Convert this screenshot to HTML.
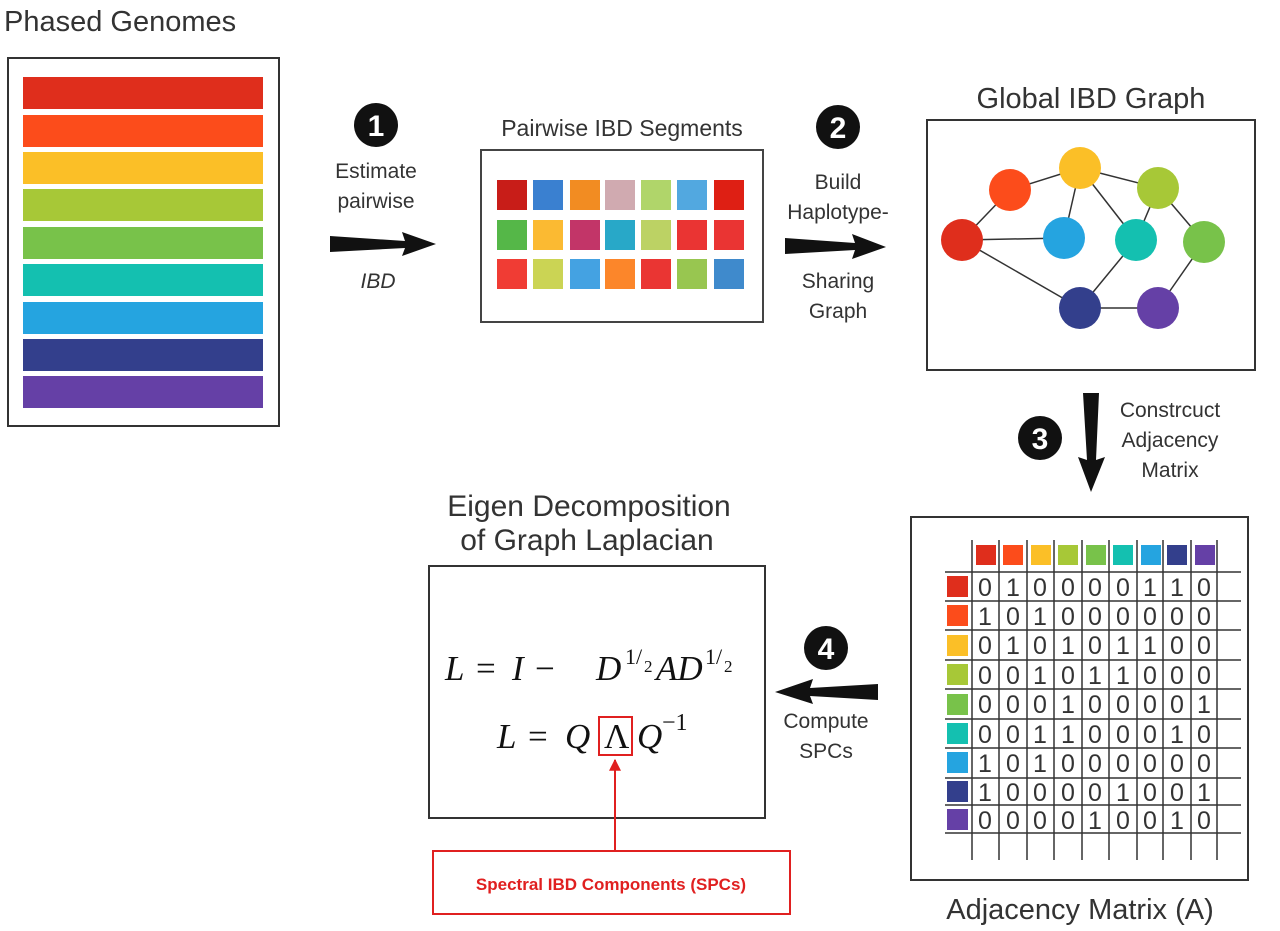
<!DOCTYPE html>
<html><head><style>body{margin:0;background:#fff}svg{display:block}text{font-family:"Liberation Sans",sans-serif}text.m{font-family:"Liberation Serif",serif;font-style:italic}</style></head><body>
<svg width="1280" height="931" xmlns="http://www.w3.org/2000/svg">
<defs><marker id="ar" viewBox="0 0 10 10" refX="9" refY="5" markerWidth="6" markerHeight="6" orient="auto"><path d="M0,0L10,5L0,10z" fill="#e02020"/></marker></defs>
<text x="4" y="31" font-size="29" fill="#333">Phased Genomes</text>
<rect x="8" y="58" width="271" height="368" fill="#fff" stroke="#333" stroke-width="2"/>
<g>
<rect x="23" y="77" width="240" height="32" fill="#df2e1c"/>
<rect x="23" y="115" width="240" height="32" fill="#fc4c1b"/>
<rect x="23" y="152" width="240" height="32" fill="#fbbf27"/>
<rect x="23" y="189" width="240" height="32" fill="#a7c837"/>
<rect x="23" y="227" width="240" height="32" fill="#78c24a"/>
<rect x="23" y="264" width="240" height="32" fill="#14c0b0"/>
<rect x="23" y="302" width="240" height="32" fill="#25a4e0"/>
<rect x="23" y="339" width="240" height="32" fill="#333f8c"/>
<rect x="23" y="376" width="240" height="32" fill="#6540a6"/>
</g>
<circle cx="376" cy="125" r="22" fill="#111"/><text x="376" y="136" font-size="30" font-weight="bold" fill="#fff" text-anchor="middle">1</text>
<text x="376" y="178" font-size="21" fill="#333" text-anchor="middle">Estimate</text>
<text x="376" y="208" font-size="21" fill="#333" text-anchor="middle">pairwise</text>
<text x="378" y="288" font-size="21" font-style="italic" fill="#333" text-anchor="middle">IBD</text>
<polygon points="330,236 405,241 402,232 436,244 402,256 405,248 330,252" fill="#111"/>
<text x="622" y="136" font-size="23" fill="#333" text-anchor="middle">Pairwise IBD Segments</text>
<rect x="481" y="150" width="282" height="172" fill="#fff" stroke="#444" stroke-width="2"/>
<g>
<rect x="497" y="180" width="30" height="30" fill="#c81d18"/><rect x="533" y="180" width="30" height="30" fill="#3a80d0"/><rect x="570" y="180" width="30" height="30" fill="#f28c22"/><rect x="605" y="180" width="30" height="30" fill="#d0aab0"/><rect x="641" y="180" width="30" height="30" fill="#b0d56a"/><rect x="677" y="180" width="30" height="30" fill="#52a8e0"/><rect x="714" y="180" width="30" height="30" fill="#de1f14"/>
<rect x="497" y="220" width="30" height="30" fill="#55b748"/><rect x="533" y="220" width="30" height="30" fill="#fbba32"/><rect x="570" y="220" width="30" height="30" fill="#c23568"/><rect x="605" y="220" width="30" height="30" fill="#28a8c8"/><rect x="641" y="220" width="30" height="30" fill="#bcd264"/><rect x="677" y="220" width="30" height="30" fill="#ea3433"/><rect x="714" y="220" width="30" height="30" fill="#ea3433"/>
<rect x="497" y="259" width="30" height="30" fill="#f03c34"/><rect x="533" y="259" width="30" height="30" fill="#cbd454"/><rect x="570" y="259" width="30" height="30" fill="#44a2e2"/><rect x="605" y="259" width="30" height="30" fill="#fc862a"/><rect x="641" y="259" width="30" height="30" fill="#ea3533"/><rect x="677" y="259" width="30" height="30" fill="#98c650"/><rect x="714" y="259" width="30" height="30" fill="#3f8acc"/>
</g>
<circle cx="838" cy="127" r="22" fill="#111"/><text x="838" y="138" font-size="30" font-weight="bold" fill="#fff" text-anchor="middle">2</text>
<text x="838" y="189" font-size="21" fill="#333" text-anchor="middle">Build</text>
<text x="838" y="219" font-size="21" fill="#333" text-anchor="middle">Haplotype-</text>
<text x="838" y="288" font-size="21" fill="#333" text-anchor="middle">Sharing</text>
<text x="838" y="318" font-size="21" fill="#333" text-anchor="middle">Graph</text>
<polygon points="785,238 855,243 852,234 886,247 852,259 855,250 785,254" fill="#111"/>
<text x="1091" y="108" font-size="29" fill="#333" text-anchor="middle">Global IBD Graph</text>
<rect x="927" y="120" width="328" height="250" fill="#fff" stroke="#333" stroke-width="2"/>
<g stroke="#333" stroke-width="1.5">
<line x1="962" y1="240" x2="1010" y2="190"/><line x1="962" y1="240" x2="1064" y2="238"/><line x1="962" y1="240" x2="1080" y2="308"/>
<line x1="1010" y1="190" x2="1080" y2="168"/><line x1="1080" y1="168" x2="1158" y2="188"/><line x1="1080" y1="168" x2="1064" y2="238"/><line x1="1080" y1="168" x2="1136" y2="240"/>
<line x1="1158" y1="188" x2="1136" y2="240"/><line x1="1158" y1="188" x2="1204" y2="242"/><line x1="1136" y1="240" x2="1080" y2="308"/>
<line x1="1204" y1="242" x2="1158" y2="308"/><line x1="1080" y1="308" x2="1158" y2="308"/>
</g>
<circle cx="962" cy="240" r="21" fill="#df2e1c"/><circle cx="1010" cy="190" r="21" fill="#fc4c1b"/><circle cx="1080" cy="168" r="21" fill="#fbbf27"/><circle cx="1158" cy="188" r="21" fill="#a7c837"/><circle cx="1064" cy="238" r="21" fill="#25a4e0"/><circle cx="1136" cy="240" r="21" fill="#14c0b0"/><circle cx="1204" cy="242" r="21" fill="#78c24a"/><circle cx="1080" cy="308" r="21" fill="#333f8c"/><circle cx="1158" cy="308" r="21" fill="#6540a6"/>
<polygon points="1083,393 1099,393 1096,460 1105,457 1091,492 1078,457 1087,460" fill="#111"/>
<circle cx="1040" cy="438" r="22" fill="#111"/><text x="1040" y="449" font-size="30" font-weight="bold" fill="#fff" text-anchor="middle">3</text>
<text x="1170" y="417" font-size="21" fill="#333" text-anchor="middle">Constrcuct</text>
<text x="1170" y="447" font-size="21" fill="#333" text-anchor="middle">Adjacency</text>
<text x="1170" y="477" font-size="21" fill="#333" text-anchor="middle">Matrix</text>
<rect x="911" y="517" width="337" height="363" fill="#fff" stroke="#333" stroke-width="2"/>
<g>
<rect x="976" y="545" width="20" height="20" fill="#df2e1c"/><rect x="1003" y="545" width="20" height="20" fill="#fc4c1b"/><rect x="1031" y="545" width="20" height="20" fill="#fbbf27"/><rect x="1058" y="545" width="20" height="20" fill="#a7c837"/><rect x="1086" y="545" width="20" height="20" fill="#78c24a"/><rect x="1113" y="545" width="20" height="20" fill="#14c0b0"/><rect x="1141" y="545" width="20" height="20" fill="#25a4e0"/><rect x="1167" y="545" width="20" height="20" fill="#333f8c"/><rect x="1195" y="545" width="20" height="20" fill="#6540a6"/>
<rect x="947" y="576" width="21" height="21" fill="#df2e1c"/><rect x="947" y="605" width="21" height="21" fill="#fc4c1b"/><rect x="947" y="635" width="21" height="21" fill="#fbbf27"/><rect x="947" y="664" width="21" height="21" fill="#a7c837"/><rect x="947" y="694" width="21" height="21" fill="#78c24a"/><rect x="947" y="723" width="21" height="21" fill="#14c0b0"/><rect x="947" y="752" width="21" height="21" fill="#25a4e0"/><rect x="947" y="781" width="21" height="21" fill="#333f8c"/><rect x="947" y="809" width="21" height="21" fill="#6540a6"/>
</g>
<g stroke="#333" stroke-width="1.5">
<line x1="972" y1="540" x2="972" y2="860"/><line x1="999" y1="540" x2="999" y2="860"/><line x1="1027" y1="540" x2="1027" y2="860"/><line x1="1054" y1="540" x2="1054" y2="860"/><line x1="1082" y1="540" x2="1082" y2="860"/><line x1="1109" y1="540" x2="1109" y2="860"/><line x1="1137" y1="540" x2="1137" y2="860"/><line x1="1163" y1="540" x2="1163" y2="860"/><line x1="1191" y1="540" x2="1191" y2="860"/><line x1="1217" y1="540" x2="1217" y2="860"/>
<line x1="945" y1="572" x2="1241" y2="572"/><line x1="945" y1="601" x2="1241" y2="601"/><line x1="945" y1="630" x2="1241" y2="630"/><line x1="945" y1="660" x2="1241" y2="660"/><line x1="945" y1="689" x2="1241" y2="689"/><line x1="945" y1="719" x2="1241" y2="719"/><line x1="945" y1="748" x2="1241" y2="748"/><line x1="945" y1="778" x2="1241" y2="778"/><line x1="945" y1="805" x2="1241" y2="805"/><line x1="945" y1="833" x2="1241" y2="833"/>
</g>
<g font-size="25" fill="#333" text-anchor="middle">
<text y="596"><tspan x="985">0</tspan><tspan x="1013">1</tspan><tspan x="1040">0</tspan><tspan x="1068">0</tspan><tspan x="1095">0</tspan><tspan x="1123">0</tspan><tspan x="1150">1</tspan><tspan x="1177">1</tspan><tspan x="1204">0</tspan></text>
<text y="625"><tspan x="985">1</tspan><tspan x="1013">0</tspan><tspan x="1040">1</tspan><tspan x="1068">0</tspan><tspan x="1095">0</tspan><tspan x="1123">0</tspan><tspan x="1150">0</tspan><tspan x="1177">0</tspan><tspan x="1204">0</tspan></text>
<text y="654"><tspan x="985">0</tspan><tspan x="1013">1</tspan><tspan x="1040">0</tspan><tspan x="1068">1</tspan><tspan x="1095">0</tspan><tspan x="1123">1</tspan><tspan x="1150">1</tspan><tspan x="1177">0</tspan><tspan x="1204">0</tspan></text>
<text y="684"><tspan x="985">0</tspan><tspan x="1013">0</tspan><tspan x="1040">1</tspan><tspan x="1068">0</tspan><tspan x="1095">1</tspan><tspan x="1123">1</tspan><tspan x="1150">0</tspan><tspan x="1177">0</tspan><tspan x="1204">0</tspan></text>
<text y="713"><tspan x="985">0</tspan><tspan x="1013">0</tspan><tspan x="1040">0</tspan><tspan x="1068">1</tspan><tspan x="1095">0</tspan><tspan x="1123">0</tspan><tspan x="1150">0</tspan><tspan x="1177">0</tspan><tspan x="1204">1</tspan></text>
<text y="743"><tspan x="985">0</tspan><tspan x="1013">0</tspan><tspan x="1040">1</tspan><tspan x="1068">1</tspan><tspan x="1095">0</tspan><tspan x="1123">0</tspan><tspan x="1150">0</tspan><tspan x="1177">1</tspan><tspan x="1204">0</tspan></text>
<text y="772"><tspan x="985">1</tspan><tspan x="1013">0</tspan><tspan x="1040">1</tspan><tspan x="1068">0</tspan><tspan x="1095">0</tspan><tspan x="1123">0</tspan><tspan x="1150">0</tspan><tspan x="1177">0</tspan><tspan x="1204">0</tspan></text>
<text y="801"><tspan x="985">1</tspan><tspan x="1013">0</tspan><tspan x="1040">0</tspan><tspan x="1068">0</tspan><tspan x="1095">0</tspan><tspan x="1123">1</tspan><tspan x="1150">0</tspan><tspan x="1177">0</tspan><tspan x="1204">1</tspan></text>
<text y="829"><tspan x="985">0</tspan><tspan x="1013">0</tspan><tspan x="1040">0</tspan><tspan x="1068">0</tspan><tspan x="1095">1</tspan><tspan x="1123">0</tspan><tspan x="1150">0</tspan><tspan x="1177">1</tspan><tspan x="1204">0</tspan></text>
</g>
<text x="1080" y="919" font-size="29" fill="#333" text-anchor="middle">Adjacency Matrix (A)</text>
<circle cx="826" cy="648" r="22" fill="#111"/><text x="826" y="659" font-size="30" font-weight="bold" fill="#fff" text-anchor="middle">4</text>
<polygon points="878,684 810,688 813,679 775,692 813,704 810,696 878,700" fill="#111"/>
<text x="826" y="728" font-size="21" fill="#333" text-anchor="middle">Compute</text>
<text x="826" y="758" font-size="21" fill="#333" text-anchor="middle">SPCs</text>
<text x="589" y="516" font-size="30" fill="#333" text-anchor="middle">Eigen Decomposition</text>
<text x="587" y="550" font-size="30" fill="#333" text-anchor="middle">of Graph Laplacian</text>
<rect x="429" y="566" width="336" height="252" fill="#fff" stroke="#333" stroke-width="2"/>
<g fill="#111" font-size="35">
<text class="m" x="445" y="680">L</text>
<text class="m" x="476" y="680" style="font-style:normal">=</text>
<text class="m" x="512" y="680">I</text>
<text class="m" x="535" y="680" style="font-style:normal">−</text>
<text class="m" x="596" y="680">D</text>
<text class="m" x="625" y="664" font-size="22" style="font-style:normal">1/</text>
<text class="m" x="644" y="672" font-size="17" style="font-style:normal">2</text>
<text class="m" x="656" y="680">AD</text>
<text class="m" x="705" y="664" font-size="22" style="font-style:normal">1/</text>
<text class="m" x="724" y="672" font-size="17" style="font-style:normal">2</text>
<text class="m" x="497" y="748">L</text>
<text class="m" x="528" y="748" style="font-style:normal">=</text>
<text class="m" x="565" y="748">Q</text>
<text class="m" x="604" y="748" style="font-style:normal">Λ</text>
<text class="m" x="637" y="748">Q</text>
<text class="m" x="662" y="730" font-size="24" style="font-style:normal">−1</text>
</g>
<rect x="599" y="717" width="33" height="38" fill="none" stroke="#e02020" stroke-width="2"/>
<line x1="615" y1="851" x2="615" y2="760" stroke="#e02020" stroke-width="2" marker-end="url(#ar)"/>
<rect x="433" y="851" width="357" height="63" fill="#fff" stroke="#e02020" stroke-width="2"/>
<text x="611" y="890" font-size="17" font-weight="bold" fill="#e02020" text-anchor="middle">Spectral IBD Components (SPCs)</text>
</svg>
</body></html>
